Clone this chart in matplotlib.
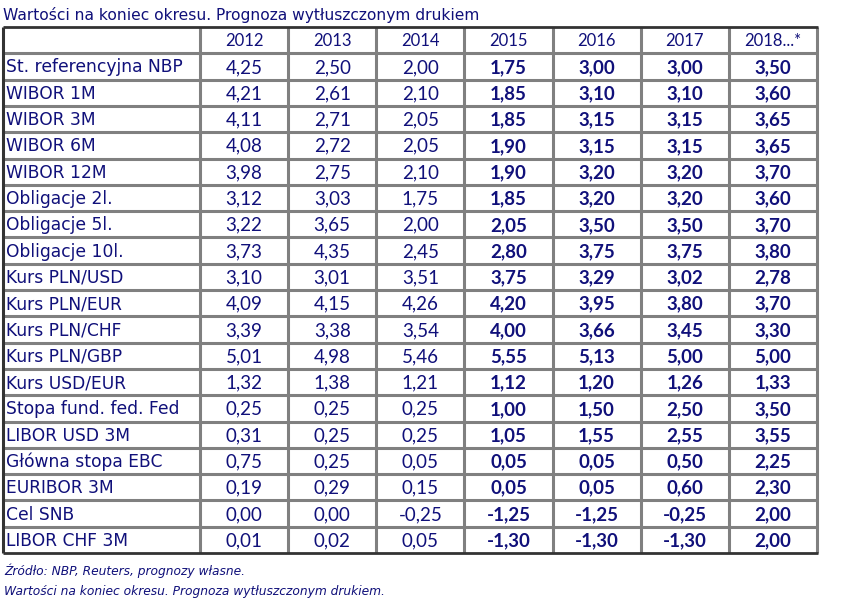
import matplotlib
matplotlib.use('Agg')
import matplotlib.pyplot as plt

TITLE = 'Wartości na koniec okresu. Prognoza wytłuszczonym drukiem'
years = ['2012', '2013', '2014', '2015', '2016', '2017', '2018...*']
rows = ['St. referencyjna NBP', 'WIBOR 1M', 'WIBOR 3M', 'WIBOR 6M', 'WIBOR 12M',
        'Obligacje 2l.', 'Obligacje 5l.', 'Obligacje 10l.', 'Kurs PLN/USD',
        'Kurs PLN/EUR', 'Kurs PLN/CHF', 'Kurs PLN/GBP', 'Kurs USD/EUR',
        'Stopa fund. fed. Fed', 'LIBOR USD 3M', 'Główna stopa EBC', 'EURIBOR 3M',
        'Cel SNB', 'LIBOR CHF 3M']
values = [
    ['4,25', '2,50', '2,00', '1,75', '3,00', '3,00', '3,50'],
    ['4,21', '2,61', '2,10', '1,85', '3,10', '3,10', '3,60'],
    ['4,11', '2,71', '2,05', '1,85', '3,15', '3,15', '3,65'],
    ['4,08', '2,72', '2,05', '1,90', '3,15', '3,15', '3,65'],
    ['3,98', '2,75', '2,10', '1,90', '3,20', '3,20', '3,70'],
    ['3,12', '3,03', '1,75', '1,85', '3,20', '3,20', '3,60'],
    ['3,22', '3,65', '2,00', '2,05', '3,50', '3,50', '3,70'],
    ['3,73', '4,35', '2,45', '2,80', '3,75', '3,75', '3,80'],
    ['3,10', '3,01', '3,51', '3,75', '3,29', '3,02', '2,78'],
    ['4,09', '4,15', '4,26', '4,20', '3,95', '3,80', '3,70'],
    ['3,39', '3,38', '3,54', '4,00', '3,66', '3,45', '3,30'],
    ['5,01', '4,98', '5,46', '5,55', '5,13', '5,00', '5,00'],
    ['1,32', '1,38', '1,21', '1,12', '1,20', '1,26', '1,33'],
    ['0,25', '0,25', '0,25', '1,00', '1,50', '2,50', '3,50'],
    ['0,31', '0,25', '0,25', '1,05', '1,55', '2,55', '3,55'],
    ['0,75', '0,25', '0,05', '0,05', '0,05', '0,50', '2,25'],
    ['0,19', '0,29', '0,15', '0,05', '0,05', '0,60', '2,30'],
    ['0,00', '0,00', '-0,25', '-1,25', '-1,25', '-0,25', '2,00'],
    ['0,01', '0,02', '0,05', '-1,30', '-1,30', '-1,30', '2,00'],
]
forecast_from = 3  # index of first forecast column (bold)
notes = ['Źródło: NBP, Reuters, prognozy własne.',
         'Wartości na koniec okresu. Prognoza wytłuszczonym drukiem.']

NAVY = '#10107a'
GRID = '#808080'
DARK = '#333333'
LABEL_FONT = 'DejaVu Sans'
NUM_FONT = 'Lato'

W, H = 856, 600
fig = plt.figure(figsize=(W / 100, H / 100), dpi=100)
ax = fig.add_axes([0, 0, 1, 1])
ax.set_xlim(0, W)
ax.set_ylim(H, 0)
ax.axis('off')

x_left, x_right = 3, 817
label_w = 197
col_w = (x_right - x_left - label_w) / len(years)
y_top, y_bot = 27, 553
row_h = (y_bot - y_top) / (len(rows) + 1)

col_edges = [x_left + label_w + i * col_w for i in range(len(years) + 1)]
row_edges = [y_top + i * row_h for i in range(len(rows) + 2)]

# grid
for y in row_edges[1:-1]:
    ax.plot([x_left, x_right], [y, y], color=GRID, lw=2.2, solid_capstyle='butt')
for x in col_edges[:-1]:
    ax.plot([x, x], [y_top, y_bot], color=GRID, lw=2.2, solid_capstyle='butt')
ax.plot([x_right, x_right], [y_top, y_bot], color=GRID, lw=2.2, solid_capstyle='butt')
ax.plot([x_left, x_left], [y_top, y_bot], color=DARK, lw=2.2, solid_capstyle='butt')
ax.plot([x_left, x_right + 1], [y_top, y_top], color=DARK, lw=2, solid_capstyle='butt')
ax.plot([x_left, x_right + 1], [y_bot, y_bot], color=DARK, lw=2, solid_capstyle='butt')

# title
ax.text(x_left, 15, TITLE, color=NAVY, fontsize=11.2, family=LABEL_FONT,
        va='center', ha='left')

# header
for j, yr in enumerate(years):
    cx = (col_edges[j] + col_edges[j + 1]) / 2
    ax.text(cx, (row_edges[0] + row_edges[1]) / 2 + 1, yr, color=NAVY, fontsize=12,
            family=NUM_FONT, ha='center', va='center')

# body
for i, name in enumerate(rows):
    cy = (row_edges[i + 1] + row_edges[i + 2]) / 2 + 1
    ax.text(x_left + 3, cy, name, color=NAVY, fontsize=12.3, family=LABEL_FONT,
            ha='left', va='center')
    for j, v in enumerate(values[i]):
        cx = (col_edges[j] + col_edges[j + 1]) / 2
        ax.text(cx, cy, v, color=NAVY, fontsize=13.5, family=NUM_FONT,
                ha='center', va='center',
                fontweight='bold' if j >= forecast_from else 'normal')

# notes
for k, note in enumerate(notes):
    ax.text(x_left + 1, 571 + k * 20, note, color=NAVY, fontsize=8.8, family=LABEL_FONT,
            style='italic', ha='left', va='center')

fig.savefig('out.png', dpi=100, facecolor='white')
